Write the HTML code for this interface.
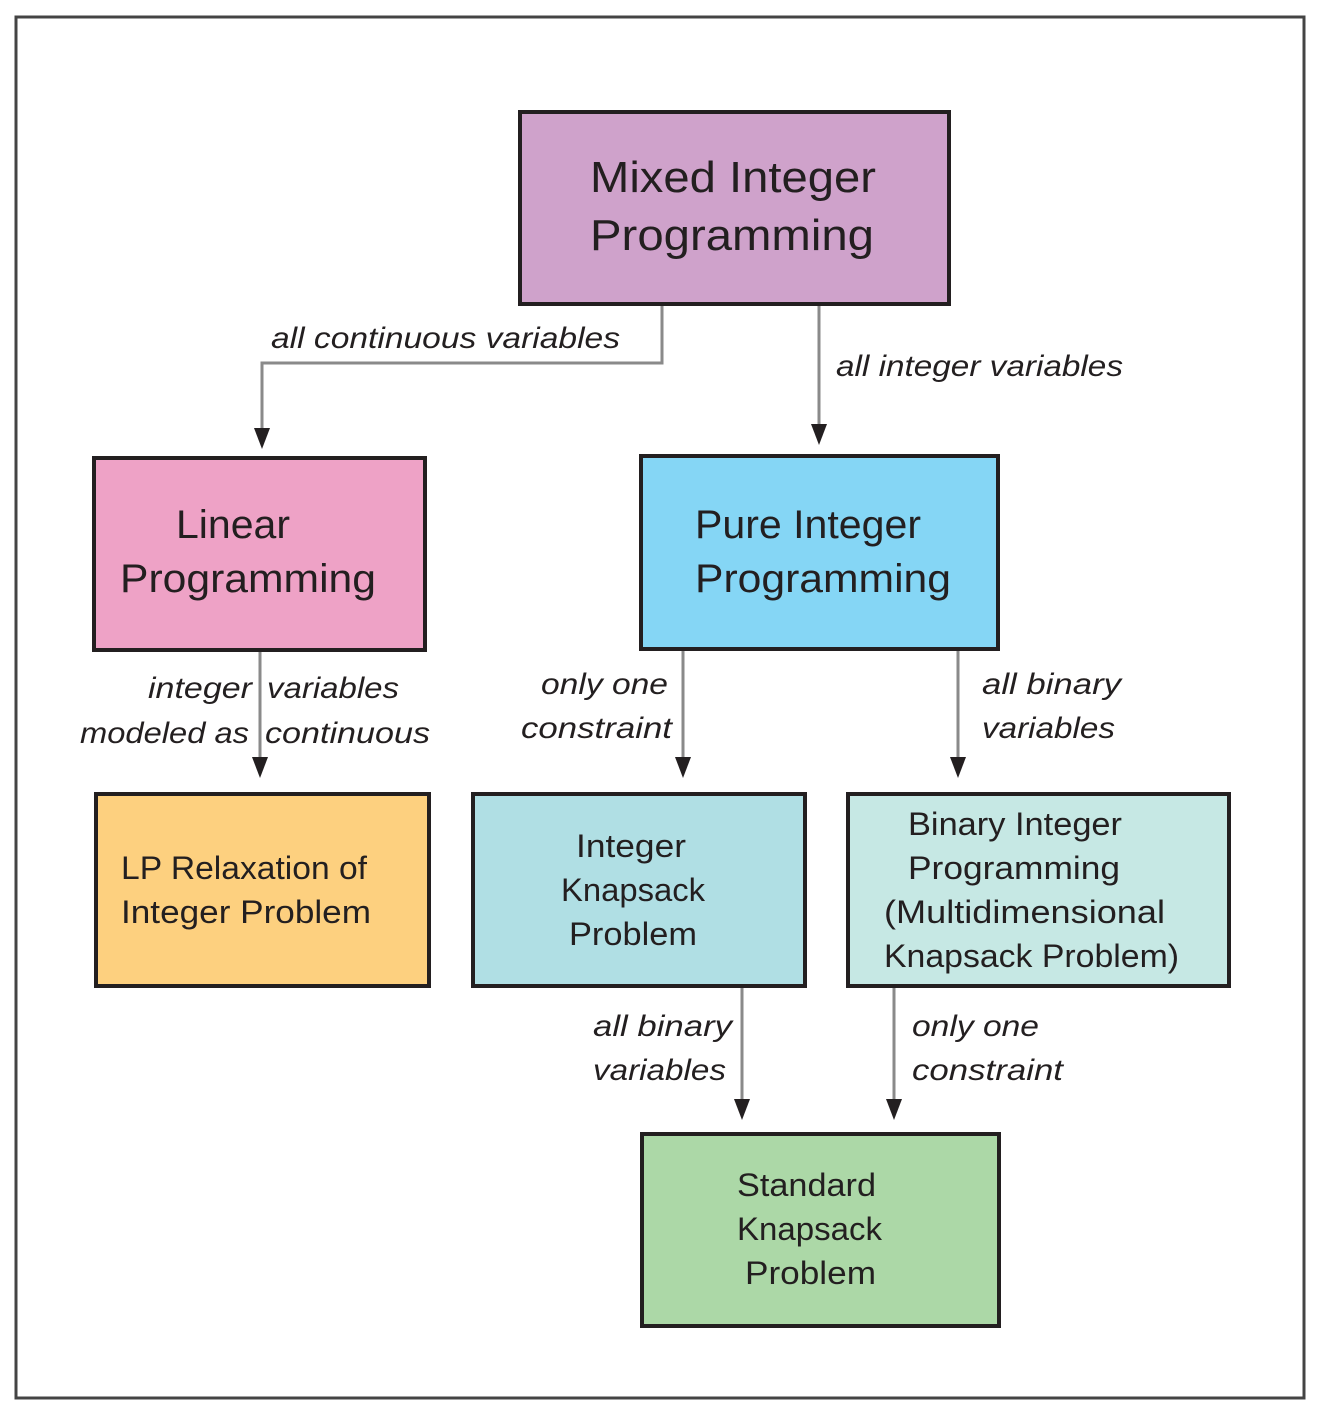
<!DOCTYPE html>
<html><head><meta charset="utf-8"><style>
html,body{margin:0;padding:0;background:#fff;}
svg{display:block;}
text{font-family:"Liberation Sans",sans-serif;fill:#231f20;}
.l{font-style:italic;font-size:30px;}
.b{stroke:#231f20;stroke-width:4;}
.c{stroke:#8a8a8a;stroke-width:3;fill:none;}
</style></head><body>
<svg width="1320" height="1412" viewBox="0 0 1320 1412" xmlns="http://www.w3.org/2000/svg">
<rect x="16" y="17" width="1288" height="1381" fill="#fff" stroke="#444" stroke-width="3"/>
<!-- connectors -->
<polyline class="c" points="662,304 662,363 262,363 262,432"/>
<line class="c" x1="819" y1="304" x2="819" y2="430"/>
<line class="c" x1="260" y1="650" x2="260" y2="762"/>
<line class="c" x1="683" y1="650" x2="683" y2="762"/>
<line class="c" x1="958" y1="650" x2="958" y2="762"/>
<line class="c" x1="742" y1="986" x2="742" y2="1104"/>
<line class="c" x1="894" y1="986" x2="894" y2="1104"/>
<g fill="#231f20">
<polygon points="254,428 270,428 262,449"/>
<polygon points="811,424 827,424 819,445"/>
<polygon points="252,757 268,757 260,778"/>
<polygon points="675,757 691,757 683,778"/>
<polygon points="950,757 966,757 958,778"/>
<polygon points="734,1099 750,1099 742,1120"/>
<polygon points="886,1099 902,1099 894,1120"/>
</g>
<!-- boxes -->
<rect class="b" x="520" y="112" width="429" height="192" fill="#cfa2cb"/>
<rect class="b" x="94" y="458" width="331" height="192" fill="#eea2c6"/>
<rect class="b" x="641" y="456" width="357" height="193" fill="#85d6f5"/>
<rect class="b" x="96" y="794" width="333" height="192" fill="#fdd07f"/>
<rect class="b" x="473" y="794" width="332" height="192" fill="#b0dfe4"/>
<rect class="b" x="848" y="794" width="381" height="192" fill="#c6e8e4"/>
<rect class="b" x="642" y="1134" width="357" height="192" fill="#acd8a7"/>
<!-- box text -->
<g font-size="44">
<text x="590" y="192" textLength="286" lengthAdjust="spacingAndGlyphs">Mixed Integer</text>
<text x="590" y="250" textLength="284" lengthAdjust="spacingAndGlyphs">Programming</text>
</g>
<g font-size="40">
<text x="176" y="538" textLength="114" lengthAdjust="spacingAndGlyphs">Linear</text>
<text x="120" y="592" textLength="256" lengthAdjust="spacingAndGlyphs">Programming</text>
<text x="695" y="538" textLength="226" lengthAdjust="spacingAndGlyphs">Pure Integer</text>
<text x="695" y="592" textLength="256" lengthAdjust="spacingAndGlyphs">Programming</text>
</g>
<g font-size="32">
<text x="121" y="879" textLength="246" lengthAdjust="spacingAndGlyphs">LP Relaxation of</text>
<text x="121" y="923" textLength="250" lengthAdjust="spacingAndGlyphs">Integer Problem</text>
<text x="576" y="857" textLength="110" lengthAdjust="spacingAndGlyphs">Integer</text>
<text x="561" y="901" textLength="144" lengthAdjust="spacingAndGlyphs">Knapsack</text>
<text x="569" y="945" textLength="128" lengthAdjust="spacingAndGlyphs">Problem</text>
<text x="908" y="835" textLength="214" lengthAdjust="spacingAndGlyphs">Binary Integer</text>
<text x="908" y="879" textLength="212" lengthAdjust="spacingAndGlyphs">Programming</text>
<text x="884" y="923" textLength="281" lengthAdjust="spacingAndGlyphs">(Multidimensional</text>
<text x="884" y="967" textLength="295" lengthAdjust="spacingAndGlyphs">Knapsack Problem)</text>
<text x="737" y="1196" textLength="139" lengthAdjust="spacingAndGlyphs">Standard</text>
<text x="737" y="1240" textLength="145" lengthAdjust="spacingAndGlyphs">Knapsack</text>
<text x="745" y="1284" textLength="131" lengthAdjust="spacingAndGlyphs">Problem</text>
</g>
<!-- labels -->
<text class="l" x="271" y="348" textLength="349" lengthAdjust="spacingAndGlyphs">all continuous variables</text>
<text class="l" x="836" y="376" textLength="287" lengthAdjust="spacingAndGlyphs">all integer variables</text>
<text class="l" x="148" y="698" textLength="104" lengthAdjust="spacingAndGlyphs">integer</text>
<text class="l" x="267" y="698" textLength="132" lengthAdjust="spacingAndGlyphs">variables</text>
<text class="l" x="80" y="743" textLength="169" lengthAdjust="spacingAndGlyphs">modeled as</text>
<text class="l" x="265" y="743" textLength="165" lengthAdjust="spacingAndGlyphs">continuous</text>
<text class="l" x="541" y="694" textLength="127" lengthAdjust="spacingAndGlyphs">only one</text>
<text class="l" x="521" y="738" textLength="151" lengthAdjust="spacingAndGlyphs">constraint</text>
<text class="l" x="982" y="694" textLength="139" lengthAdjust="spacingAndGlyphs">all binary</text>
<text class="l" x="982" y="738" textLength="133" lengthAdjust="spacingAndGlyphs">variables</text>
<text class="l" x="593" y="1036" textLength="139" lengthAdjust="spacingAndGlyphs">all binary</text>
<text class="l" x="593" y="1080" textLength="133" lengthAdjust="spacingAndGlyphs">variables</text>
<text class="l" x="912" y="1036" textLength="127" lengthAdjust="spacingAndGlyphs">only one</text>
<text class="l" x="912" y="1080" textLength="151" lengthAdjust="spacingAndGlyphs">constraint</text>
</svg>
</body></html>
